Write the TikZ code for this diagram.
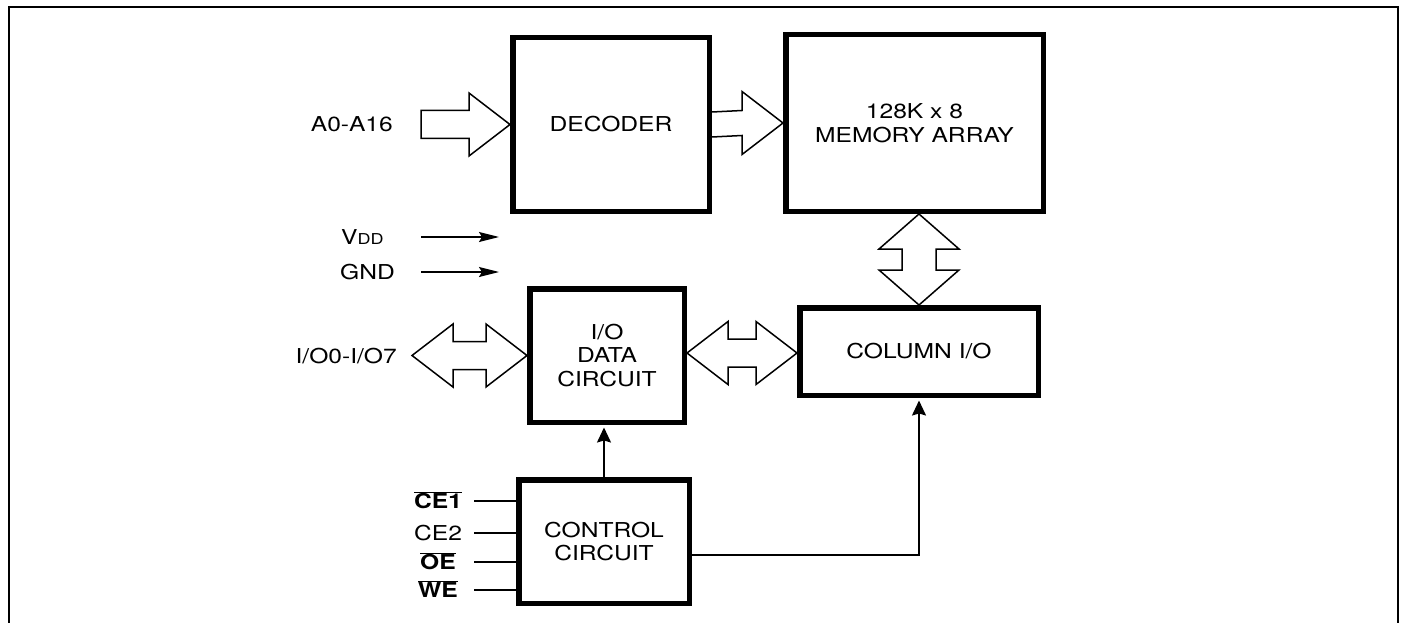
\documentclass[tikz,border=0pt]{standalone}
\usepackage{fontspec}
\setmainfont{TeX Gyre Heros}[FakeStretch=1.2]
\usetikzlibrary{calc,arrows.meta}
\newcommand\ovl[1]{\ensuremath{\overline{\mbox{#1}}}}
\def\hL{41}\def\hH{31.5}\def\hS{14}
\newcommand\dblh[2]{\draw[fat] (#1) -- ($(#1)+(\hL,-\hH)$) -- ($(#1)+(\hL,-\hS)$) -- ($(#2)+(-\hL,-\hS)$) -- ($(#2)+(-\hL,-\hH)$) -- (#2) -- ($(#2)+(-\hL,\hH)$) -- ($(#2)+(-\hL,\hS)$) -- ($(#1)+(\hL,\hS)$) -- ($(#1)+(\hL,\hH)$) -- cycle;}
\begin{document}
\begin{tikzpicture}[x=1pt,y=-1pt,
  box/.style={draw, line width=5.5pt, align=center, inner sep=0pt},
  fat/.style={draw, line width=1.5pt, line join=miter},
  pwr/.style={line width=1.5pt, -{Stealth[length=20pt,width=10pt,inset=3pt]}},
  ctl/.style={line width=1.5pt, shorten >=2.5pt, -{Stealth[length=15pt,width=14pt,inset=2pt]}},
  wire/.style={line width=1.5pt},
  lbl/.style={inner sep=0pt},
  font=\fontsize{20.5}{23.5}\selectfont]
\useasboundingbox (0,0) rectangle (1402,623);
\draw[line width=2.5pt] (9,623) -- (9,7) -- (1398,7) -- (1398,623);

% boxes
\node[box, minimum width=196.5pt, minimum height=173.5pt] (dec) at (611,124.5) {DECODER};
\node[box, minimum width=257.5pt, minimum height=176.5pt] (mem) at (914.5,123) {128K x 8\\MEMORY ARRAY};
\node[box, minimum width=154.5pt, minimum height=133.5pt] (io) at (607,355.5) {I/O\\DATA\\CIRCUIT};
\node[box, minimum width=238.5pt, minimum height=87.5pt] (col) at (919,351.5) {COLUMN I/O};
\node[box, minimum width=170.5pt, minimum height=123.5pt] (ctrl) at (604,541.5) {CONTROL\\CIRCUIT};

% labels
\node[lbl, anchor=east] (a0) at (393,124.5) {A0-A16};
\node[lbl, anchor=west] (vdd) at (341,237) {V{\fontsize{15}{15}\selectfont DD}};
\node[lbl, anchor=west] (gnd) at (340,272) {GND};
\node[lbl, anchor=base east] (iolbl) at (397,363) {I/O0-I/O7};
\node[lbl, anchor=base] (ce1) at (438,508.4) {\ovl{\bfseries CE1}};
\node[lbl, anchor=base] (ce2) at (438,540.4) {CE2};
\node[lbl, anchor=base] (oe) at (438,569.4) {\ovl{\bfseries OE}};
\node[lbl, anchor=base] (we) at (438,597.4) {\ovl{\bfseries WE}};

% fat arrows
\coordinate (a0s) at (421,124.5);
\draw[fat] ($(a0s)+(0,-\hS)$) -- ($(dec.west)+(-\hL,-\hS)$) -- ($(dec.west)+(-\hL,-\hH)$) -- (dec.west) -- ($(dec.west)+(-\hL,\hH)$) -- ($(dec.west)+(-\hL,\hS)$) -- ($(a0s)+(0,\hS)$) -- cycle;
\coordinate (dm) at (dec.east |- mem.west);
\draw[fat] ($(dec.east)+(0,-12.5)$) -- ($(mem.west)+(-\hL,-12.5)$) -- ($(mem.west)+(-\hL,-\hH)$) -- (mem.west) -- ($(mem.west)+(-\hL,\hH)$) -- ($(mem.west)+(-\hL,12.5)$) -- ($(dec.east)+(0,12.5)$);
\coordinate (iol) at (412,355.5);
\dblh{iol}{io.west}
\coordinate (ym) at (0,353);
\coordinate (ioe) at (io.east |- ym);
\coordinate (colw) at (col.west |- ym);
\dblh{ioe}{colw}
\coordinate (vt) at (col.north |- mem.south);
\coordinate (vb) at (col.north);
\draw[fat] (vt) -- ($(vt)+(-40,35)$) -- ($(vt)+(-17,35)$) -- ($(vb)+(-17,-35)$) -- ($(vb)+(-40,-35)$) -- (vb) -- ($(vb)+(40,-35)$) -- ($(vb)+(17,-35)$) -- ($(vt)+(17,35)$) -- ($(vt)+(40,35)$) -- cycle;

% power arrows
\coordinate (vdd1) at (421,237); \coordinate (vdd2) at (499,237);
\coordinate (gnd1) at (421,272); \coordinate (gnd2) at (499,272);
\draw[pwr] (vdd1) -- (vdd2);
\draw[pwr] (gnd1) -- (gnd2);

% control inputs
\foreach \n/\yy in {c1/501, c2/533, c3/562, c4/590}{
  \coordinate (\n) at (474,\yy);
  \draw[wire] (\n) -- (ctrl.west |- \n);
}
\draw[ctl] (ctrl.north) -- (ctrl.north |- io.south);
\coordinate (cc) at (0,555);
\draw[ctl] (ctrl.east |- cc) -| (col.south);
\end{tikzpicture}
\end{document}
